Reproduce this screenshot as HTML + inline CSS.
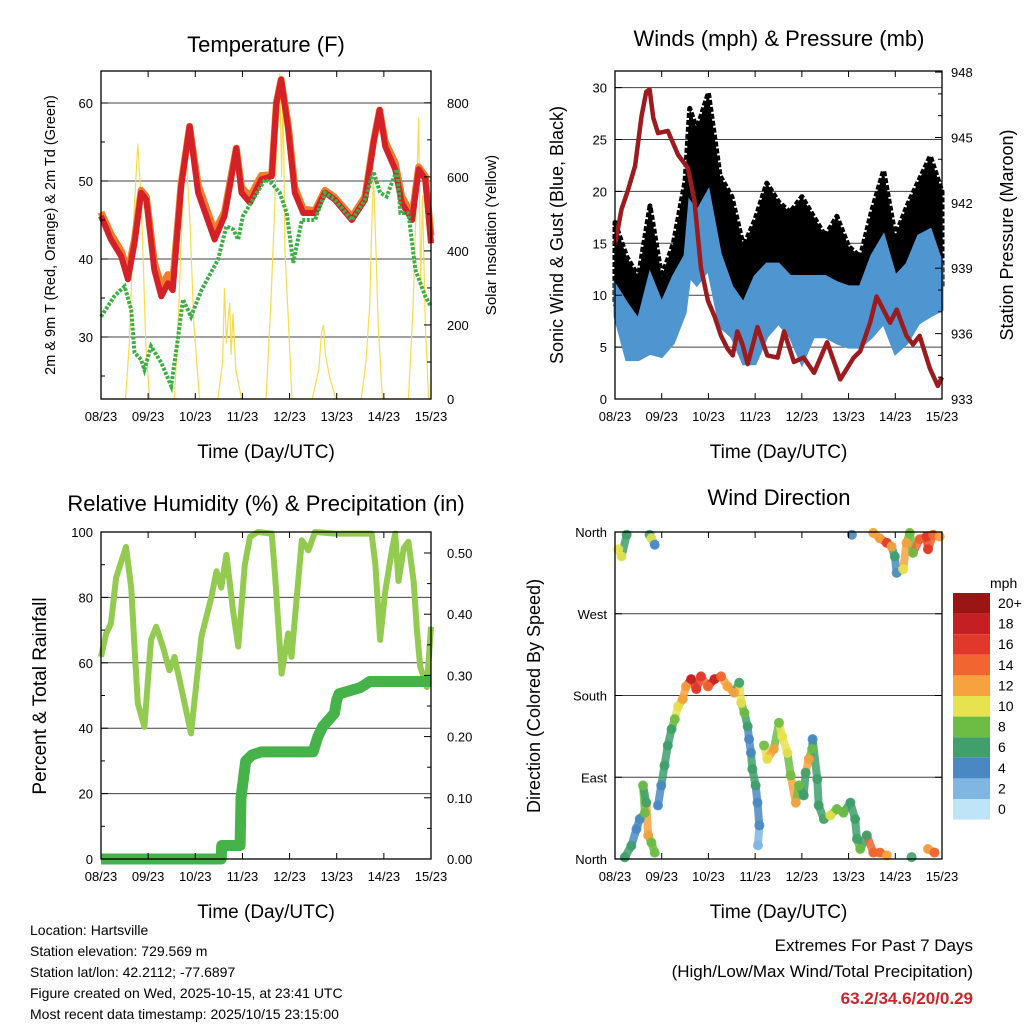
<!DOCTYPE html>
<html><head><meta charset="utf-8"><style>
body{margin:0;background:#fff}
svg{display:block;font-family:"Liberation Sans",sans-serif}
</style></head><body>
<svg id="c" width="1024" height="1024" viewBox="0 0 1024 1024">
<rect width="1024" height="1024" fill="#fff"/>
<g id="g"></g>
<g font-size="14" fill="#000">
<text x="30" y="935">Location: Hartsville</text>
<text x="30" y="956">Station elevation: 729.569 m</text>
<text x="30" y="977">Station lat/lon: 42.2112; -77.6897</text>
<text x="30" y="998">Figure created on Wed, 2025-10-15, at 23:41 UTC</text>
<text x="30" y="1019">Most recent data timestamp: 2025/10/15 23:15:00</text>
</g>
<g text-anchor="end">
<text x="973" y="951" font-size="17">Extremes For Past 7 Days</text>
<text x="973" y="977" font-size="17">(High/Low/Max Wind/Total Precipitation)</text>
<text x="973" y="1004" font-size="17" font-weight="bold" fill="#c8282d">63.2/34.6/20/0.29</text>
</g>
</svg>
<script>
const dayLabels=["08/23","09/23","10/23","11/23","12/23","13/23","14/23","15/23"];
// Temperature
const tempT=[0,0.21,0.43,0.57,0.71,0.85,0.96,1.13,1.28,1.42,1.52,1.70,1.88,2.06,2.41,2.62,2.77,2.87,2.98,3.16,3.40,3.62,3.72,3.82,3.97,4.11,4.29,4.54,4.75,4.96,5.32,5.60,5.78,5.91,6.03,6.24,6.38,6.60,6.74,6.88,7.0];
const tempRed=[45.5,42.5,40.3,37.4,42,48.5,47.6,38.6,35.2,36.9,36,49.3,57,48.5,42.5,45.5,50.6,54.2,48.5,47.2,50.2,50.6,60,63,56.6,48.5,45.9,45.9,48.5,47.6,45,47.6,54.9,59.1,54.4,51.5,47.2,45,51.5,50.2,42];
const tempOrange=[46,43.2,41,38.3,42.5,48.8,48,39.6,36.5,38,37,49.6,57,49.5,43.5,46,51,54.2,49.2,48,50.7,50.8,60,63,57.2,49.2,46.4,46.2,48.8,47.9,45.4,48,55,59.1,55,52.3,48,45.6,51.8,50.6,43];
const dewT=[0,0.28,0.5,0.64,0.71,0.85,0.92,1.06,1.28,1.49,1.63,1.74,1.91,2.13,2.48,2.66,2.80,2.91,3.01,3.26,3.48,3.62,3.79,3.94,4.08,4.26,4.54,4.75,4.96,5.32,5.60,5.78,5.92,6.06,6.28,6.35,6.52,6.67,6.88,7.0];
const dewV=[32.6,35.2,36.5,33.5,28,27.1,25.8,28.8,26.7,23.7,29.7,34.8,32.6,36,39.9,44.2,43.8,42.5,45.5,48,50.2,49.7,48.5,45.9,39.5,45,45,48.5,47.6,45,47.6,51.2,48.5,48,51.5,45.9,45.9,38.6,35.2,33.9];
const solarT=[0,0.52,0.6,0.7,0.78,0.86,0.95,1.03,1.56,1.65,1.74,1.81,1.88,1.97,2.09,2.48,2.58,2.62,2.66,2.7,2.73,2.76,2.8,2.86,2.98,3.5,3.6,3.68,3.74,3.79,3.83,3.86,3.9,3.98,4.05,4.48,4.62,4.68,4.72,4.76,4.85,4.98,5.52,5.62,5.7,5.75,5.78,5.82,5.88,5.97,6.52,6.62,6.68,6.74,6.78,6.82,6.88,6.95,7];
const solarV=[0,0,150,500,690,520,150,0,0,250,560,650,500,200,0,0,100,300,150,220,260,120,230,80,0,0,250,500,750,880,600,850,400,200,0,0,80,180,200,120,60,0,0,100,250,500,600,450,200,0,0,250,500,760,300,550,200,0,0];
// Winds
const windT=[0,0.25,0.5,0.75,1.0,1.25,1.5,1.6,1.75,2.0,2.25,2.5,2.75,3.0,3.25,3.5,3.75,4.0,4.25,4.5,4.75,5.0,5.25,5.5,5.75,6.0,6.25,6.5,6.75,7.0];
const sonicHi=[11,9.2,7.6,12,9.2,11.8,13.8,19,18,20,14,10.8,9.2,11.8,13,13,11.8,11.8,11.8,11.8,11.2,10.8,10.8,13.8,15.7,11.8,13,15.7,16.3,13];
const sonicLo=[8,3.8,3.8,4.4,4.1,5.4,8.3,11.8,11,12.5,7,6,3.4,3.4,6,7.3,6,3.4,6,6,5.4,5,5,6,7.3,4.4,5.4,7.3,8,8.6];
const gustHi=[17,13.7,11.8,18.6,11.8,15,21,28,26,29.5,21.5,19.5,14.7,17.3,20.8,19,18,19.5,17.6,15.7,17.6,14.7,13.7,18.2,22,15.7,18.6,21,23.4,20];
const gustLo=[9.2,6,6,9.2,6.7,9.2,13.8,19,16,19,12.5,10.8,7.3,7.6,10.8,12.5,10.8,9.2,9.2,9.2,9.2,8.6,8.6,9.9,12.5,7.6,12.5,11.8,12.5,10.8];
const presT=[0,0.14,0.28,0.43,0.57,0.67,0.74,0.82,0.92,1.13,1.35,1.56,1.70,1.84,1.99,2.13,2.27,2.41,2.52,2.62,2.73,2.84,3.05,3.26,3.48,3.62,3.83,4.04,4.26,4.54,4.82,5.11,5.25,5.46,5.60,5.89,6.03,6.24,6.38,6.52,6.74,6.91,7.0];
const presV=[940.1,941.7,942.6,943.7,946,947.1,947.2,945.9,945.2,945.3,944.2,943.6,942.1,939,937.5,936.8,935.9,935.3,935,936.1,935.5,934.6,936.3,935,934.9,936.1,934.7,934.9,934.2,935.6,933.9,934.9,935.2,936.5,937.7,936.5,937.1,935.9,935.5,935.9,934.4,933.6,934.0];
// RH / precip
const rhT=[0,0.11,0.21,0.32,0.43,0.53,0.64,0.71,0.78,0.92,1.06,1.17,1.31,1.45,1.56,1.70,1.91,2.13,2.34,2.45,2.55,2.66,2.80,2.91,3.05,3.16,3.33,3.62,3.69,3.83,3.97,4.04,4.26,4.40,4.54,4.96,5.74,5.82,5.92,6.03,6.17,6.24,6.31,6.42,6.52,6.63,6.70,6.77,6.91,7.0];
const rhV=[61.8,69,72,86,91,95.4,83,65,47.6,40.4,67,71,65,57.7,61.8,52.6,38.4,68,80,88,83,93,76,65,90,98.5,100,99.5,87,56.7,69,61.8,97.5,94.4,100,99.5,99.5,90,67,82,94.4,99.5,85,95,97,85,70,58.8,52.6,71];
const precT=[0,2.55,2.56,2.95,2.97,3.07,3.2,3.4,4.5,4.6,4.7,4.95,5.0,5.05,5.5,5.6,5.7,7];
const precV=[0,0,0.022,0.022,0.10,0.16,0.17,0.175,0.175,0.2,0.216,0.238,0.26,0.27,0.28,0.285,0.29,0.29];
// Wind direction
const dirT=[0.21,0.35,0.46,0.53,0.64,0.60,0.67,0.71,0.78,0.85,0.92,0.99,1.06,1.13,1.21,1.28,1.35,1.45,1.52,1.63,1.74,1.84,1.99,2.13,2.27,2.41,2.55,2.66,2.70,2.77,2.84,2.87,2.91,2.94,3.01,3.05,3.09,3.06,3.19,3.26,3.40,3.51,3.58,3.69,3.76,3.87,3.94,4.04,4.08,4.15,4.22,4.23,4.33,4.36,4.47,4.61,4.75,4.89,5.04,5.14,5.18,5.25,5.39,5.53,5.67,5.82,6.35,6.70,6.84,0.07,0.14,0.25,0.74,0.78,0.85,5.07,5.53,5.67,5.82,5.92,5.99,6.03,6.17,6.24,6.31,6.38,6.52,6.67,6.70,6.81,6.95];
const dirV=[1.8,14.6,33,44,51,81,62,26,18,7,59,81,103,125,143,154,168,176,190,198,187,201,190,198,201,190,183,194,172,161,146,132,117,99,81,62,37,15,125,110,121,150,135,117,92,62,81,70,95,110,121,132,88,59,44,48,55,51,62,44,22,11,26,7,7,4,2,11,7,341,333,357,357,353,346,357,359,353,348,344,333,315,319,348,359,337,352,355,341,357,355];
const dirS=[6,6,4,4,8,8,6,12,8,8,4,4,6,6,6,8,10,12,12,18,16,16,14,18,14,12,12,6,10,8,6,4,4,6,6,4,4,2,8,10,12,8,10,10,8,12,8,6,6,12,8,4,6,6,6,10,8,8,6,6,6,8,6,14,14,12,6,12,14,10,10,6,6,10,4,4,12,12,16,12,6,4,10,12,8,8,14,16,16,14,12];
const spdLabels=["20+","18","16","14","12","10","8","6","4","2","0"];
const spdColors=["#9b1515","#c41f22","#e0382b","#f06530","#f7a23e","#e7e24f","#6dbd45","#3fa06c","#4a88c4","#7fb6e2","#bfe4f7"];

const NS="http://www.w3.org/2000/svg";
const G=document.getElementById('g');
function el(tag,attrs,parent,txt){const e=document.createElementNS(NS,tag);for(const k in attrs)e.setAttribute(k,attrs[k]);if(txt!==undefined)e.textContent=txt;(parent||G).appendChild(e);return e;}
function lin(d0,d1,r0,r1){return v=>r0+(v-d0)/(d1-d0)*(r1-r0);}
function pathOf(T,V,sx,sy){return T.map((t,i)=>(i?'L':'M')+sx(t).toFixed(1)+','+sy(V[i]).toFixed(1)).join('');}
function bandOf(T,H,L,sx,sy){let d=T.map((t,i)=>(i?'L':'M')+sx(t).toFixed(1)+','+sy(H[i]).toFixed(1)).join('');for(let i=T.length-1;i>=0;i--)d+='L'+sx(T[i]).toFixed(1)+','+sy(L[i]).toFixed(1);return d+'Z';}

function frame(x0,y0,x1,y1,name){
  el('rect',{x:x0,y:y0,width:x1-x0,height:y1-y0,fill:'none',stroke:'#000','stroke-width':1.3,});
  const sx=lin(0,7,x0,x1);
  dayLabels.forEach((l,i)=>{const x=sx(i);
    el('line',{x1:x,x2:x,y1:y1,y2:y1-6,stroke:'#000'});el('line',{x1:x,x2:x,y1:y0,y2:y0+6,stroke:'#000'});
    const t=el('text',{x:x,y:y1+22,'font-size':13,'text-anchor':'middle'},G,l);
    
    
  });
  const xt=el('text',{x:(x0+x1)/2,y:y1+59,'font-size':19,'text-anchor':'middle'},G,'Time (Day/UTC)');
  
  
  return sx;
}
function hgrid(x0,x1,y){el('line',{x1:x0,x2:x1,y1:y,y2:y,stroke:'#000','stroke-width':1,'stroke-opacity':0.75});}
function ticks(vals,sy,x,side,labels,fs,minor,dx){
  vals.forEach((v,i)=>{const y=sy(v);el('line',{x1:x,x2:x+side*7,y1:y,y2:y,stroke:'#000'});
    if(labels){const t=el('text',{x:x-side*dx,y:y+5,'font-size':fs,'text-anchor':side>0?'end':'start'},G,labels[i]);
      
      }
  });
  (minor||[]).forEach(v=>{const y=sy(v);el('line',{x1:x,x2:x+side*4,y1:y,y2:y,stroke:'#000'});});
}
function vtitle(x,y,txt,fs,name){const t=el('text',{x:0,y:0,'font-size':fs,'text-anchor':'middle',transform:`translate(${x},${y}) rotate(-90)`},G,txt);
  }
function title(x,y,txt,name){const t=el('text',{x:x,y:y,'font-size':22,'text-anchor':'middle'},G,txt);
  }

// Panel 1
(function(){
  const x0=101,x1=431,y0=71,y1=399;
  const sx=lin(0,7,x0,x1), sy=lin(22.05,64.1,y1,y0), sr=lin(0,886,y1,y0);
  [30,40,50,60].forEach(v=>hgrid(x0,x1,sy(v)));
  const s=el('path',{d:pathOf(solarT,solarV,sx,sr),fill:'none',stroke:'#f7dc4a','stroke-width':1.2});
  
  const o=el('path',{d:pathOf(tempT,tempOrange,sx,sy),fill:'none',stroke:'#f37d2a','stroke-width':7,'stroke-linejoin':'round'});
  
  const r=el('path',{d:pathOf(tempT,tempRed,sx,sy),fill:'none',stroke:'#d42027','stroke-width':6,'stroke-linejoin':'round'});
  
  const g=el('path',{d:pathOf(dewT,dewV,sx,sy),fill:'none',stroke:'#3eae48','stroke-width':4,'stroke-dasharray':'3 1.5'});
  
  frame(x0,y0,x1,y1,'temperature');
  ticks([30,40,50,60],sy,x0,1,['30','40','50','60'],13,[25,35,45,55],8);
  ticks([0,200,400,600,800],sr,x1,-1,['0','200','400','600','800'],13,[100,300,500,700],16);
  title(266,52,'Temperature (F)','temperature-title');
  vtitle(55,235,'2m & 9m T (Red, Orange) & 2m Td (Green)',14.5,'temperature-y-axis-title');
  vtitle(496,235,'Solar Insolation (Yellow)',15,'solar-y-axis-title');
})();
// Panel 2
(function(){
  const x0=615,x1=942,y0=71,y1=399;
  const sx=lin(0,7,x0,x1), sy=lin(0,31.6,y1,y0), sp=lin(933,948.05,y1,y0);
  [5,10,15,20,25,30].forEach(v=>hgrid(x0,x1,sy(v)));
  const b=el('path',{d:bandOf(windT,gustHi,gustLo,sx,sy),fill:'#000','stroke':'#000','stroke-width':5,'stroke-linejoin':'round','stroke-dasharray':'5 2'});
  
  const w=el('path',{d:bandOf(windT,sonicHi,sonicLo,sx,sy),fill:'#4f95d0',stroke:'#4f95d0','stroke-width':3});
  
  const p=el('path',{d:pathOf(presT,presV,sx,sp),fill:'none',stroke:'#9c1b1e','stroke-width':4.5,'stroke-linejoin':'round'});
  
  frame(x0,y0,x1,y1,'winds');
  ticks([0,5,10,15,20,25,30],sy,x0,1,['0','5','10','15','20','25','30'],13,[],8);
  ticks([933,936,939,942,945,948],sp,x1,-1,['933','936','939','942','945','948'],13,[934,935,937,938,940,941,943,944,946,947],9);
  title(779,46,'Winds (mph) & Pressure (mb)','winds-title');
  vtitle(563,235,'Sonic Wind & Gust (Blue, Black)',18,'wind-y-axis-title');
  vtitle(1013,235,'Station Pressure (Maroon)',18,'pressure-y-axis-title');
})();
// Panel 3
(function(){
  const x0=101,x1=431,y0=532,y1=859;
  const sx=lin(0,7,x0,x1), sy=lin(0,100,y1,y0), sp=lin(0,0.5,y1,553);
  [20,40,60,80].forEach(v=>hgrid(x0,x1,sy(v)));
  const h=el('path',{d:pathOf(rhT,rhV,sx,sy),fill:'none',stroke:'#93cb50','stroke-width':6,'stroke-linejoin':'round'});
  
  const p=el('path',{d:pathOf(precT,precV,sx,sp),fill:'none',stroke:'#45b349','stroke-width':11,'stroke-linejoin':'round'});
  
  frame(x0,y0,x1,y1,'humidity');
  ticks([0,20,40,60,80,100],sy,x0,1,['0','20','40','60','80','100'],13,[10,30,50,70,90],8);
  ticks([0,0.1,0.2,0.3,0.4,0.5],sp,x1,-1,['0.00','0.10','0.20','0.30','0.40','0.50'],13,[0.05,0.15,0.25,0.35,0.45],16);
  title(266,511,'Relative Humidity (%) & Precipitation (in)','humidity-title');
  vtitle(46,696,'Percent & Total Rainfall',19,'humidity-y-axis-title');
})();
// Panel 4
(function(){
  const x0=615,x1=942,y0=532,y1=859;
  const sx=lin(0,7,x0,x1), sy=lin(0,360,y1,y0);
  [90,180,270].forEach(v=>hgrid(x0,x1,sy(v)));
  function col(s){let i=Math.round(s/2);if(i>10)i=10;return spdColors[10-i];}
  for(let i=1;i<dirT.length;i++){
    if(Math.abs(dirT[i]-dirT[i-1])<0.2&&Math.abs(dirV[i]-dirV[i-1])<45){
      const s=el('line',{x1:sx(dirT[i-1]),y1:sy(dirV[i-1]),x2:sx(dirT[i]),y2:sy(dirV[i]),stroke:col(dirS[i]),'stroke-width':8,'stroke-linecap':'round','stroke-opacity':0.85});
      
      
    }
  }
  dirT.forEach((t,i)=>{
    const c=el('circle',{cx:sx(t),cy:sy(dirV[i]),r:5,fill:col(dirS[i]),'fill-opacity':0.9});
    
    
  });
  frame(x0,y0,x1,y1,'direction');
  ticks([0,90,180,270,360],sy,x0,1,['North','East','South','West','North'],13,[],8);
  ticks([0,90,180,270,360],sy,x1,-1,null,13,[],8);
  title(779,505,'Wind Direction','direction-title');
  vtitle(540,696,'Direction (Colored By Speed)',18,'direction-y-axis-title');
  const lg=el('g',{});
  el('text',{x:990,y:588,'font-size':14},lg,'mph');
  spdLabels.forEach((l,i)=>{
    el('rect',{x:953,y:593+i*20.6,width:37,height:20.6,fill:spdColors[i]},lg);
    el('text',{x:998,y:593+i*20.6+15,'font-size':14},lg,l);
  });
})();
</script>
</body></html>
